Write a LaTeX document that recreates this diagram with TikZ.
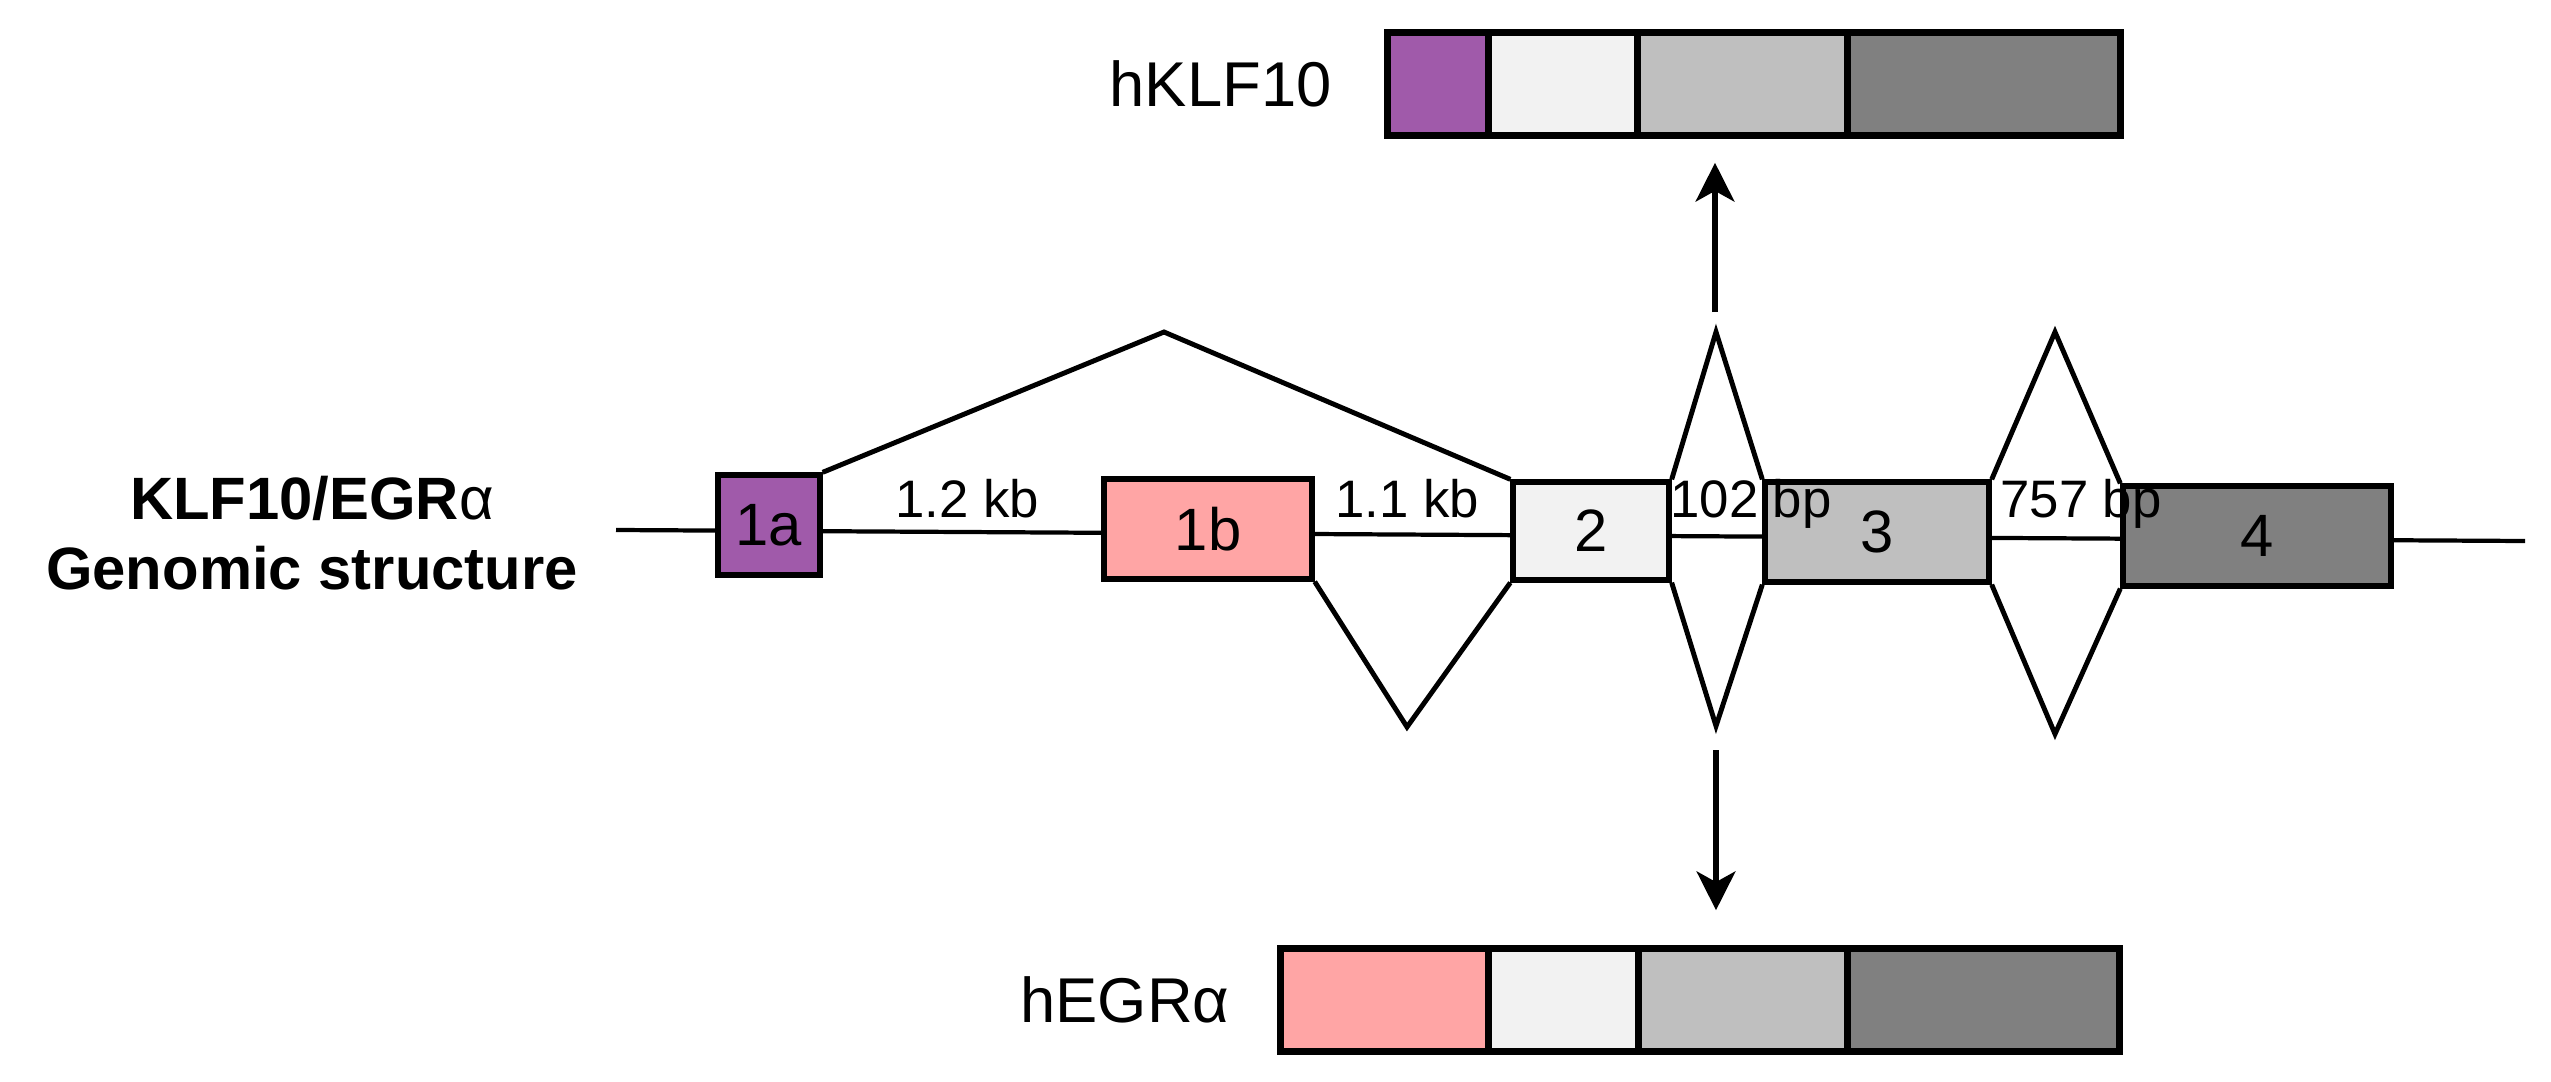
\documentclass[tikz,border=0pt]{standalone}
\usepackage{fontspec}
\setmainfont{Liberation Sans}
\usepackage{xcolor}
\usetikzlibrary{arrows.meta,positioning}

\definecolor{exonA}{RGB}{160,90,170}
\definecolor{exonB}{RGB}{255,165,165}
\definecolor{exonC}{RGB}{242,242,242}
\definecolor{exonD}{RGB}{191,191,191}
\definecolor{exonE}{RGB}{128,128,128}

\begin{document}
\begin{tikzpicture}[
    x=0.01cm, y=-0.01cm,
    exon/.style={rectangle, draw=black, line width=1.5pt, inner sep=0pt,
        minimum height=1.0cm, font=\fontsize{17}{20}\selectfont},
    prot/.style={rectangle, draw=black, line width=1pt, inner sep=0pt,
        minimum height=1.0cm},
    intron/.style={line width=1.2pt},
    splice/.style={line width=1.4pt, line join=miter},
    arrow/.style={-{Stealth[length=11pt, width=11pt, inset=3pt]}, line width=1.6pt},
    lbl/.style={font=\fontsize{15}{18}\selectfont, inner sep=0pt, anchor=base},
    plbl/.style={font=\fontsize{18}{21}\selectfont, inner sep=0pt}
]
    \useasboundingbox (0,0) rectangle (2551,1082);

    % Title
    \node[font=\bfseries\fontsize{17}{20}\selectfont, align=center] (title) at (312,533)
        {KLF10/EGR{\mdseries α}\\Genomic structure};

    % --- Genomic structure ---
    \coordinate (gstart) at (616,530);
    \coordinate (gend) at (2525,541);
    \draw[intron] (gstart) -- (gend);

    \node[exon, fill=exonA, minimum width=1.02cm] (e1a) at (769,525) {1a};
    \node[exon, fill=exonB, minimum width=2.08cm] (e1b) at (1208,529) {1b};
    \node[exon, fill=exonC, minimum width=1.56cm, minimum height=0.98cm] (e2) at (1591,531) {2};
    \node[exon, fill=exonD, minimum width=2.24cm] (e3) at (1877,532) {3};
    \node[exon, fill=exonE, minimum width=2.68cm] (e4) at (2257,536) {4};

    % Splicing
    \coordinate (top1) at (1164,332);
    \coordinate (bot1) at (1407,727);
    \coordinate (top2) at (1716,332);
    \coordinate (bot2) at (1716,726);
    \coordinate (top3) at (2055,332);
    \coordinate (bot3) at (2055,734);
    \draw[splice] (e1a.north east) -- (top1) -- (e2.north west);
    \draw[splice] (e1b.south east) -- (bot1) -- (e2.south west);
    \draw[splice] (e2.north east) -- (top2) -- (e3.north west);
    \draw[splice] (e2.south east) -- (bot2) -- (e3.south west);
    \draw[splice] (e3.north east) -- (top3) -- (e4.north west);
    \draw[splice] (e3.south east) -- (bot3) -- (e4.south west);

    % Intron sizes
    \node[lbl] (i1) at (967,517) {1.2 kb};
    \node[lbl] (i2) at (1407,517) {1.1 kb};
    \node[lbl] (i3) at (1751,517) {102 bp};
    \node[lbl] (i4) at (2081,517) {757 bp};

    % --- hKLF10 (top) ---
    \node[prot, fill=exonA, minimum width=0.98cm] (k1) at (1438,84) {};
    \node[prot, fill=exonC, minimum width=1.45cm, right=0pt of k1] (k2) {};
    \node[prot, fill=exonD, minimum width=2.06cm, right=0pt of k2] (k3) {};
    \node[prot, fill=exonE, minimum width=2.70cm, right=0pt of k3] (k4) {};
    \draw[line width=1.6pt] (k1.north west) rectangle (k4.south east);
    \node[plbl, left=0.55cm of k1] (klf) {hKLF10};

    % --- hEGRa (bottom) ---
    \node[prot, fill=exonB, minimum width=2.05cm] (g1) at (1384.5,1000) {};
    \node[prot, fill=exonC, minimum width=1.46cm, right=0pt of g1] (g2) {};
    \node[prot, fill=exonD, minimum width=2.05cm, right=0pt of g2] (g3) {};
    \node[prot, fill=exonE, minimum width=2.69cm, right=0pt of g3] (g4) {};
    \draw[line width=1.6pt] (g1.north west) rectangle (g4.south east);
    \node[plbl, left=0.50cm of g1] (egr) {hEGRα};

    % Arrows
    \coordinate (upstart) at (1715,312);
    \draw[arrow, shorten >=0.27cm] (upstart) -- (upstart |- k3.south);
    \coordinate (dnstart) at (1716,750);
    \draw[arrow, shorten >=0.38cm] (dnstart) -- (dnstart |- g3.north);
\end{tikzpicture}
\end{document}
